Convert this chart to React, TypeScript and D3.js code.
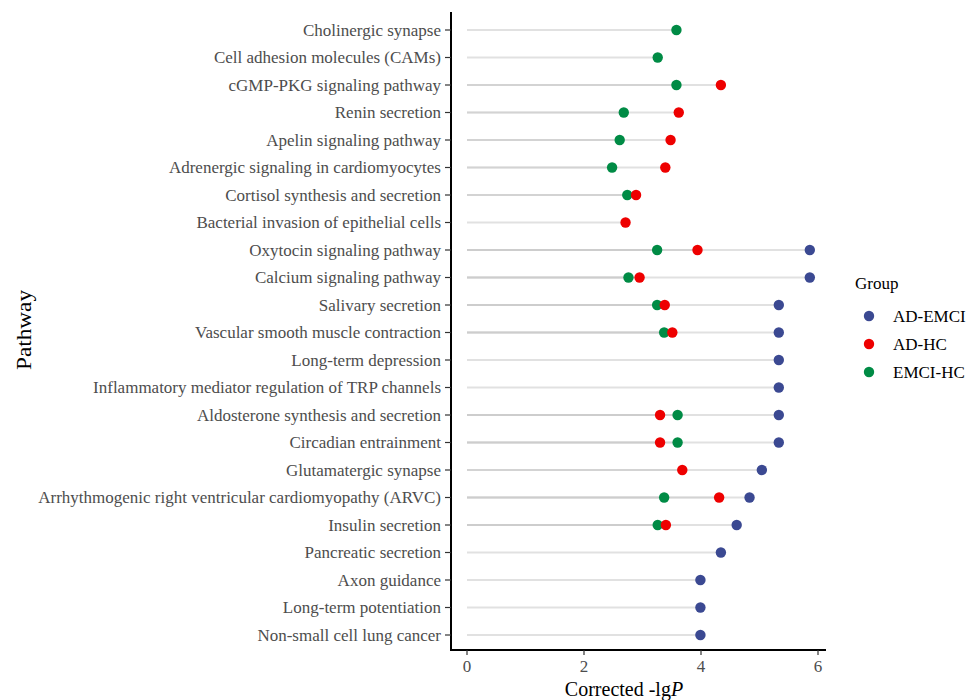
import React, { useEffect, useRef } from "react";
import * as d3 from "d3";

const pathways = [
  "Cholinergic synapse",
  "Cell adhesion molecules (CAMs)",
  "cGMP-PKG signaling pathway",
  "Renin secretion",
  "Apelin signaling pathway",
  "Adrenergic signaling in cardiomyocytes",
  "Cortisol synthesis and secretion",
  "Bacterial invasion of epithelial cells",
  "Oxytocin signaling pathway",
  "Calcium signaling pathway",
  "Salivary secretion",
  "Vascular smooth muscle contraction",
  "Long-term depression",
  "Inflammatory mediator regulation of TRP channels",
  "Aldosterone synthesis and secretion",
  "Circadian entrainment",
  "Glutamatergic synapse",
  "Arrhythmogenic right ventricular cardiomyopathy (ARVC)",
  "Insulin secretion",
  "Pancreatic secretion",
  "Axon guidance",
  "Long-term potentiation",
  "Non-small cell lung cancer",
];

const groups = ["AD-EMCI", "AD-HC", "EMCI-HC"];
const groupColors = ["#3B4992", "#EE0000", "#008B45"];

// null = pathway not significant in that comparison
const adEmci = [null, null, null, null, null, null, null, null, 5.86, 5.86, 5.33, 5.33, 5.33, 5.33, 5.33, 5.33, 5.04, 4.83, 4.61, 4.34, 3.99, 3.99, 3.99];
const adHc = [null, null, 4.34, 3.62, 3.48, 3.39, 2.89, 2.71, 3.94, 2.95, 3.38, 3.51, null, null, 3.30, 3.30, 3.68, 4.31, 3.40, null, null, null, null];
const emciHc = [3.58, 3.26, 3.58, 2.68, 2.61, 2.48, 2.74, null, 3.25, 2.76, 3.25, 3.37, null, null, 3.60, 3.60, null, 3.37, 3.26, null, null, null, null];

const xTicks = [0, 2, 4, 6];

export default function App() {
  const ref = useRef<SVGSVGElement>(null);

  useEffect(() => {
    const svg = d3.select(ref.current);
    svg.selectAll("*").remove();

    const font = "'Liberation Serif', 'Times New Roman', serif";
    const x = d3.scaleLinear().domain([0, 6]).range([467, 818]);
    const y = d3.scalePoint<string>().domain(pathways).range([30, 635]);
    const panelLeft = 451, panelRight = 826, panelTop = 12, panelBottom = 650;

    const rows: { p: string; v: number; g: number }[] = [];
    const series = [adEmci, adHc, emciHc];
    series.forEach((s, gi) => s.forEach((v, i) => { if (v != null) rows.push({ p: pathways[i], v, g: gi }); }));

    // segments
    svg.append("g").selectAll("line").data(rows).enter().append("line")
      .attr("x1", x(0)).attr("x2", d => x(d.v))
      .attr("y1", d => y(d.p)!).attr("y2", d => y(d.p)!)
      .attr("stroke", "#c8c8c8").attr("stroke-opacity", 0.55).attr("stroke-width", 1.8);

    // points: blue, green, red
    const order = [0, 2, 1];
    const pts = svg.append("g");
    order.forEach(gi => {
      pts.selectAll(null).data(rows.filter(r => r.g === gi)).enter().append("circle")
        .attr("cx", d => x(d.v)).attr("cy", d => y(d.p)!).attr("r", 5.2)
        .attr("fill", groupColors[gi]);
    });

    // y axis
    const ya = svg.append("g");
    ya.append("line").attr("x1", panelLeft).attr("x2", panelLeft).attr("y1", panelTop).attr("y2", panelBottom + 1)
      .attr("stroke", "black").attr("stroke-width", 2);
    pathways.forEach(p => {
      ya.append("line").attr("x1", panelLeft - 6).attr("x2", panelLeft).attr("y1", y(p)!).attr("y2", y(p)!)
        .attr("stroke", "#333").attr("stroke-width", 1.2);
      ya.append("text").attr("x", panelLeft - 10).attr("y", y(p)!).attr("dy", "0.35em")
        .attr("text-anchor", "end").attr("font-family", font).attr("font-size", 17).attr("fill", "#4d4d4d").text(p);
    });

    // x axis
    const xa = svg.append("g");
    xa.append("line").attr("x1", panelLeft - 1).attr("x2", panelRight).attr("y1", panelBottom).attr("y2", panelBottom)
      .attr("stroke", "black").attr("stroke-width", 2);
    xTicks.forEach(t => {
      xa.append("line").attr("x1", x(t)).attr("x2", x(t)).attr("y1", panelBottom).attr("y2", panelBottom + 5)
        .attr("stroke", "#333").attr("stroke-width", 1.2);
      xa.append("text").attr("x", x(t)).attr("y", panelBottom + 22).attr("text-anchor", "middle")
        .attr("font-family", font).attr("font-size", 17).attr("fill", "#4d4d4d").text(t);
    });

    const xt = svg.append("text").attr("x", 624).attr("y", 696).attr("text-anchor", "middle")
      .attr("font-family", font).attr("font-size", 20).attr("fill", "black");
    xt.append("tspan").text("Corrected -lg");
    xt.append("tspan").attr("font-style", "italic").text("P");

    svg.append("text").attr("transform", "translate(31,330) rotate(-90)").attr("text-anchor", "middle")
      .attr("font-family", font).attr("font-size", 21).attr("textLength", 80).attr("lengthAdjust", "spacingAndGlyphs")
      .attr("fill", "black").text("Pathway");

    // legend
    const lg = svg.append("g");
    lg.append("text").attr("x", 855).attr("y", 289).attr("font-family", font).attr("font-size", 17).text("Group");
    groups.forEach((g, i) => {
      const cy = 316 + i * 28;
      lg.append("circle").attr("cx", 869).attr("cy", cy).attr("r", 5.2).attr("fill", groupColors[i]);
      lg.append("text").attr("x", 893).attr("y", cy).attr("dy", "0.35em").attr("font-family", font)
        .attr("font-size", 17).attr("fill", "black").text(g);
    });
  }, []);

  return <svg ref={ref} width={972} height={700} style={{ position: "absolute", left: 0, top: 0 }} />;
}
